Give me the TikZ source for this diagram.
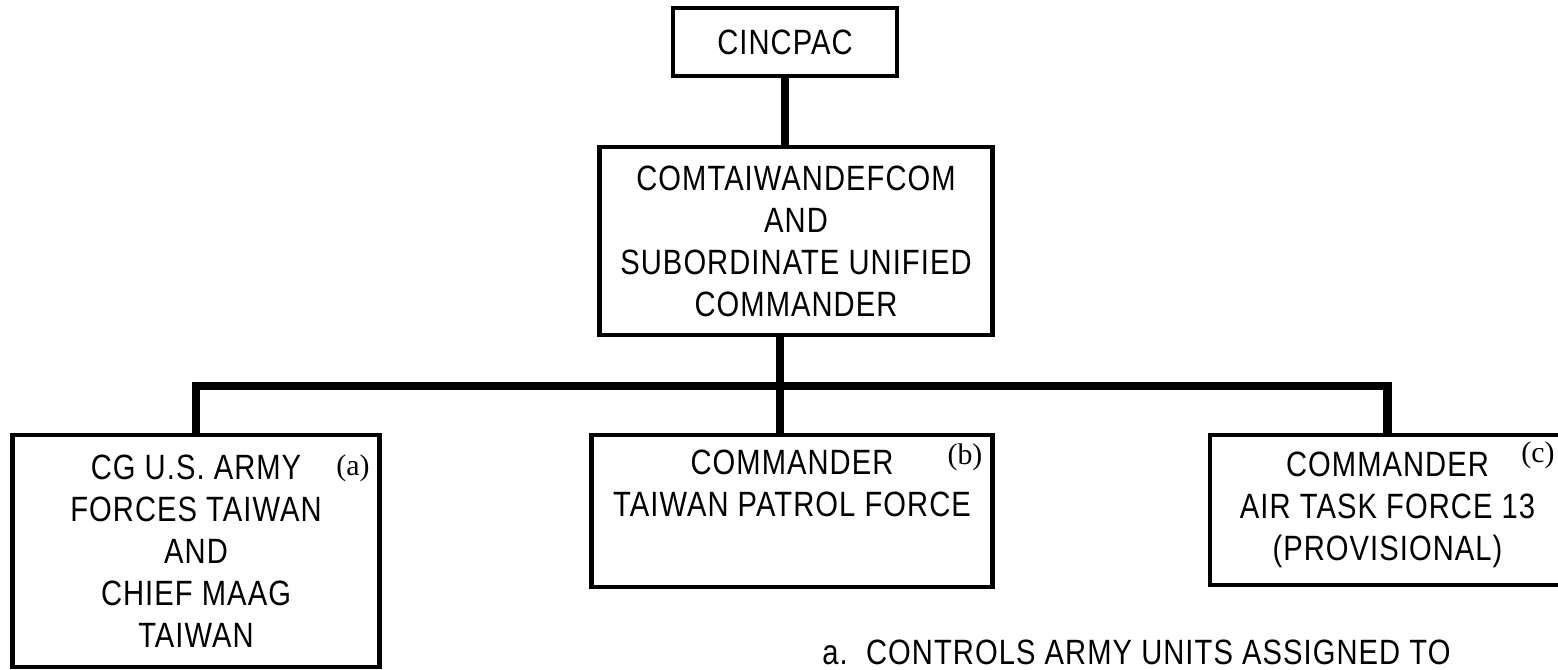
\documentclass[tikz,border=0pt]{standalone}
\usepackage{fontspec}
\setmainfont{Liberation Sans}[FakeStretch=0.83, LetterSpace=3]
\newfontfamily\markfont{Liberation Serif}
\usetikzlibrary{positioning}

\begin{document}
\begin{tikzpicture}[
  unitbox/.style={rectangle, draw=black, line width=2.6pt, align=center, font=\fontsize{20}{23.9}\selectfont},
  boxtext/.style={align=center, inner sep=0pt, font=\fontsize{20}{23.9}\selectfont},
  refmark/.style={inner sep=0pt, font=\markfont\fontsize{17}{19}\selectfont},
  link/.style={line width=4.8pt}
]
\useasboundingbox (0,0) rectangle (31.16,-13.4);

% Top of the chain
\node[unitbox, minimum width=4.48cm, minimum height=1.36cm] (cincpac) at (15.70,-0.84) {CINCPAC};
\node[unitbox, minimum width=7.86cm, minimum height=3.76cm] (comtdc) at (15.92,-4.82) {COMTAIWANDEFCOM\\AND\\SUBORDINATE UNIFIED\\COMMANDER};

% Component commands
\node[unitbox, minimum width=7.34cm, minimum height=4.64cm] (army) at (3.92,-11.02) {CG U.S. ARMY\\FORCES TAIWAN\\AND\\CHIEF MAAG\\TAIWAN};
\node[unitbox, minimum width=8.02cm, minimum height=3.04cm] (patrol) at (15.84,-10.22) {};
\node[boxtext, below=0.34cm of patrol.north] (patroltext) {COMMANDER\\TAIWAN PATROL FORCE};
\node[unitbox, minimum width=7.10cm, minimum height=3.00cm] (airtf) at (27.75,-10.20) {COMMANDER\\AIR TASK FORCE 13\\(PROVISIONAL)};

% Note markers
\node[refmark] (marka) at (7.06,-9.36) {(a)};
\node[refmark] (markb) at (19.30,-9.14) {(b)};
\node[refmark] (markc) at (30.76,-9.10) {(c)};

% Footnote
\node[boxtext, anchor=base west] (footnote) at (16.44,-13.28) {a.\ \ CONTROLS ARMY UNITS ASSIGNED TO};

% Draw connections
\coordinate (hub) at (15.60,-7.72);
\draw[link] (cincpac.south) -- (cincpac.south |- comtdc.north);
\draw[link] (comtdc.south -| hub) -- (hub |- patrol.north);
\draw[link] (army.north) |- (hub) -| (airtf.north);
\end{tikzpicture}
\end{document}
